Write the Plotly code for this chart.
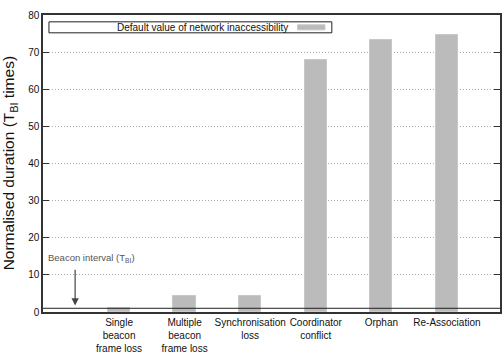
import plotly.graph_objects as go

categories = ["Single<br>beacon<br>frame loss", "Multiple<br>beacon<br>frame loss",
              "Synchronisation<br>loss", "Coordinator<br>conflict", "Orphan", "Re-Association"]
values = [1.0, 4.4, 4.4, 68.0, 73.4, 74.5]
series_name = "Default value of network inaccessibility"
beacon_interval = 1.0
y_ticks = [0, 10, 20, 30, 40, 50, 60, 70, 80]

FONT = "Liberation Sans, Arial, sans-serif"
BAR = "#bbbbbb"
x_pos = list(range(len(categories)))

fig = go.Figure()
fig.add_trace(go.Bar(x=x_pos, y=values, width=0.34, name=series_name,
                     marker=dict(color=BAR, line=dict(color="#c8c8c8", width=1)),
                     showlegend=False, hoverinfo="skip"))

# beacon interval line
fig.add_shape(type="line", xref="paper", x0=0, x1=1, yref="y", y0=beacon_interval, y1=beacon_interval,
              line=dict(color="#222222", width=1))

# arrow + label
fig.add_annotation(x=-0.67, y=1.75, ax=-0.67, ay=11.8, xref="x", yref="y", axref="x", ayref="y",
                   text="", showarrow=True, arrowhead=2, arrowsize=1.2, arrowwidth=1.2, arrowcolor="#444444")
fig.add_annotation(x=-0.42, y=14.6, xref="x", yref="y", text="Beacon interval (T<sub>BI</sub>)",
                   showarrow=False, font=dict(family=FONT, size=9.5, color="#555555"))

# manual legend
fig.add_shape(type="rect", xref="paper", yref="paper", x0=0.013, x1=0.632, y0=0.940, y1=0.977,
              line=dict(color="#222222", width=1), fillcolor="white")
fig.add_shape(type="rect", xref="paper", yref="paper", x0=0.557, x1=0.617, y0=0.950, y1=0.967,
              line=dict(color="#c8c8c8", width=1), fillcolor=BAR)
fig.add_annotation(xref="paper", yref="paper", x=0.541, y=0.9585, xanchor="right", yanchor="middle",
                   text=series_name, showarrow=False, font=dict(family=FONT, size=10, color="#111111"))

# y-axis title
fig.add_annotation(xref="paper", yref="paper", x=-0.0725, y=0.5, xanchor="center", yanchor="middle",
                   text="Normalised duration (T<sub>BI</sub> times)", textangle=-90, showarrow=False,
                   font=dict(family=FONT, size=15.5, color="#111111"))

fig.update_layout(
    width=502, height=355,
    margin=dict(l=43, r=2, t=15, b=43),
    paper_bgcolor="white", plot_bgcolor="white",
    font=dict(family=FONT, size=10, color="#111111"),
    bargap=0,
)
fig.update_xaxes(range=[-1.16, 5.81], tickvals=x_pos, ticktext=categories, ticks="",
                 showgrid=False, showline=True, linecolor="#333333", linewidth=1.5, mirror=True,
                 tickfont=dict(size=10), zeroline=False, automargin=False)
fig.update_yaxes(range=[0, 80], tickvals=y_ticks, ticks="inside", ticklen=6, tickcolor="#333333",
                 showgrid=True, gridcolor="#a8a8a8", griddash="1px,2px", gridwidth=1,
                 showline=True, linecolor="#333333", linewidth=1.5, mirror="ticks",
                 tickfont=dict(size=10), zeroline=False, automargin=False)

fig.write_html("out.html", config={"displayModeBar": False},
               post_script="document.body.style.margin='0';")
